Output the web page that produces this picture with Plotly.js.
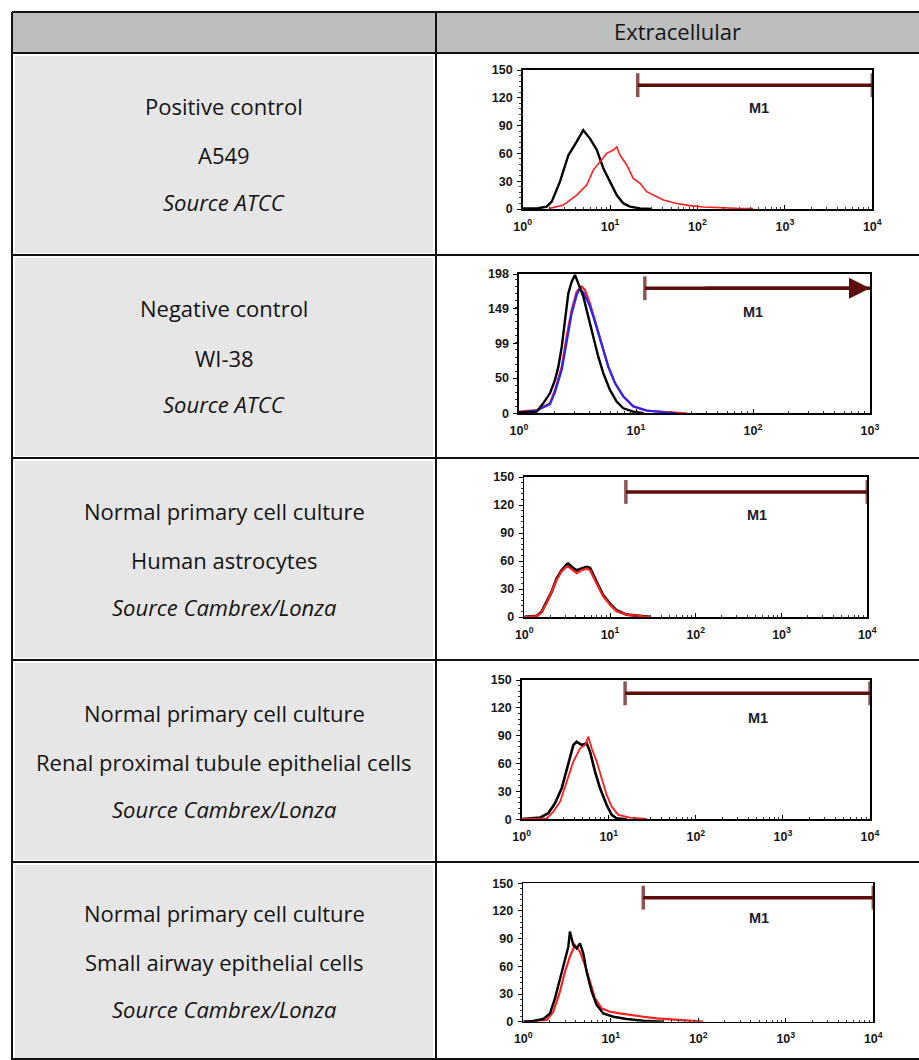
<!DOCTYPE html>
<html><head><meta charset="utf-8">
<script src="https://cdn.plot.ly/plotly-3.0.1.min.js"></script>
<style>html,body{margin:0;padding:0;background:#fff;} #chart{width:919px;height:1060px;}</style>
</head><body><div id="chart"></div><script>
// ---------- DATA ----------
const headerText = 'Extracellular';
const rowTitles = ['Positive control', 'Negative control', 'Normal primary cell culture', 'Normal primary cell culture', 'Normal primary cell culture'];
const rowSubtitles = ['A549', 'WI-38', 'Human astrocytes', 'Renal proximal tubule epithelial cells', 'Small airway epithelial cells'];
const rowSources = ['Source ATCC', 'Source ATCC', 'Source Cambrex/Lonza', 'Source Cambrex/Lonza', 'Source Cambrex/Lonza'];

// Panel 1 : A549
const p1BlackX = [1.0, 1.5, 1.88, 2.15, 2.67, 3.33, 4.15, 4.93, 5.89, 7.03, 8.36, 9.97, 11.9, 14.2, 16.9, 22, 30];
const p1BlackY = [0.5, 0.8, 2.5, 7.9, 29.5, 58, 72.7, 85, 76, 64, 44, 29.5, 15, 6, 2.5, 0.7, 0];
const p1RedX = [2.05, 2.92, 4.15, 5.4, 6.42, 7.66, 9.14, 10.9, 11.9, 13, 15.5, 18.4, 22, 26.2, 31.2, 40.6, 57.8, 82, 116, 181, 281, 435];
const p1RedY = [0.7, 4.3, 15, 25.9, 42, 51, 60, 63.7, 67, 58, 47.5, 33, 27.7, 18.7, 15, 9.7, 6, 3.6, 2.2, 1.3, 0.7, 0.5];
// Panel 2 : WI-38
const p2BlackX = [1.0, 1.42, 1.61, 1.84, 2.03, 2.17, 2.32, 2.47, 2.64, 2.82, 3.01, 3.21, 3.55, 3.91, 4.32, 4.76, 5.26, 5.99, 6.83, 7.79, 9.48, 11.6];
const p2BlackY = [1, 2.4, 14.2, 28.4, 47.4, 66.3, 94.7, 132.6, 170.5, 187.1, 196.6, 184.7, 165.8, 137.4, 109, 80.5, 56.8, 33.2, 16.6, 7.1, 2.4, 0];
const p2RedX = [1.0, 1.42, 1.84, 2.03, 2.32, 2.55, 2.82, 3.11, 3.43, 3.66, 4.04, 4.46, 5.09, 5.80, 6.62, 7.79, 9.48, 12.3, 17.1, 27.1];
const p2RedY = [2.4, 4.7, 14.2, 33.2, 66.3, 109, 146.8, 172.9, 180, 175.3, 156.3, 132.6, 99.5, 66.3, 42.6, 23.7, 9.5, 3.8, 1.9, 0];
const p2BlueX = [1.0, 1.42, 1.84, 2.03, 2.32, 2.55, 2.82, 3.11, 3.3, 3.55, 4.04, 4.46, 5.09, 5.80, 6.62, 7.79, 9.48, 12.3, 17.1, 22];
const p2BlueY = [1.5, 4, 13, 30, 62, 104, 142, 168, 177, 172, 152, 130, 98, 66, 43, 24, 10, 4, 1.5, 0];
// Panel 3 : Human astrocytes
const p3BlackX = [1.0, 1.39, 1.59, 1.82, 2.08, 2.38, 2.73, 3.12, 3.26, 3.56, 4.08, 4.66, 5.33, 5.83, 6.38, 7.29, 8.34, 9.98, 11.9, 15.6, 22.3, 29.2];
const p3BlackY = [0, 1.1, 5.4, 16, 26.8, 41, 50, 56.4, 57.1, 53.6, 50, 51.8, 53.6, 52.5, 44.6, 33.9, 23.2, 14.3, 7.1, 2.5, 1.1, 0];
const p3RedX = [1.0, 1.39, 1.59, 1.82, 2.08, 2.38, 2.73, 3.12, 3.26, 3.56, 4.08, 4.66, 5.33, 5.83, 6.38, 7.29, 8.34, 9.98, 11.9, 15.6, 22.3, 29.2];
const p3RedY = [0, 1, 5, 15, 27, 40, 49, 54, 54, 51, 47, 50, 52, 50, 43, 33, 22, 13, 6, 2.5, 1, 0];
// Panel 4 : Renal proximal tubule epithelial cells
const p4BlackX = [1.0, 1.62, 2.02, 2.41, 2.88, 3.43, 3.92, 4.28, 4.89, 5.57, 6.09, 6.95, 7.94, 9.46, 10.8, 12.3, 16.1];
const p4BlackY = [0.4, 1.8, 6.5, 17.2, 33.4, 58.5, 80, 83.6, 80, 81.8, 72.9, 51.3, 33.4, 15.4, 4.7, 1.1, 0];
const p4RedX = [1.0, 1.94, 2.31, 2.76, 3.29, 3.92, 4.68, 5.34, 5.83, 6.37, 7.27, 8.29, 9.46, 10.8, 12.9, 17.5, 27.3];
const p4RedY = [0.4, 1.1, 8.3, 19, 40.6, 62.1, 76.4, 80, 89, 76.4, 62.1, 44.1, 26.2, 13.6, 4.7, 1.8, 0.4];
// Panel 5 : Small airway epithelial cells
const p5BlackX = [1.0, 1.3, 1.69, 2.02, 2.3, 2.62, 2.99, 3.27, 3.41, 3.73, 4.07, 4.44, 4.85, 5.29, 6.04, 6.89, 8.21, 10.7, 15.2, 23.5, 39.8];
const p5BlackY = [0, 0.7, 2.9, 9, 25.3, 47, 68.7, 81.3, 97.6, 83.1, 79.5, 84.9, 74.1, 54.2, 32.5, 18.1, 9, 5.4, 2.9, 1.1, 0];
const p5RedX = [1.0, 1.85, 2.2, 2.62, 2.99, 3.41, 3.89, 4.44, 5.07, 5.78, 6.59, 7.86, 9.78, 12.7, 16.6, 23.5, 33.4, 47.4, 73.5, 114];
const p5RedY = [0, 1.8, 10.8, 32.5, 54.2, 70.5, 83.1, 75.9, 61.4, 43.4, 25.3, 14.5, 10.8, 9, 7.2, 5.4, 3.6, 2.5, 1.1, 0];

// M1 gates
const gateName = 'M1';
const gateStart = [20.7, 11.9, 15.3, 15.4, 23.5];
const gateEnd = [10000, 1000, 10000, 10000, 10000];
const gateLevel = [133.6, 177.7, 134, 135.7, 134.4];
const gateLabelX = [500, 100, 515, 517, 494];
const gateLabelY = [109, 144, 109, 109.4, 112];

// Axis ticks
const yTicks150 = [0, 30, 60, 90, 120, 150];
const yTicks198 = [0, 50, 99, 149, 198];
const xTicks4 = [1, 10, 100, 1000, 10000];
const xTickText4 = ['10<sup>0</sup>', '10<sup>1</sup>', '10<sup>2</sup>', '10<sup>3</sup>', '10<sup>4</sup>'];
const xTicks3 = [1, 10, 100, 1000];
const xTickText3 = ['10<sup>0</sup>', '10<sup>1</sup>', '10<sup>2</sup>', '10<sup>3</sup>'];

// ---------- LAYOUT ----------
const W = 919, H = 1060;
const px = x => x / W;
const py = y => 1 - y / H;
const rowLines = [53, 255, 458, 660, 862, 1060];
const colL = 12, colM = 436;
const boxes = [
  {l: 522.7, r: 872.3, t: 70, b: 209},
  {l: 519, r: 870, t: 274, b: 413.3},
  {l: 524.3, r: 867.3, t: 477, b: 617},
  {l: 521.7, r: 870, t: 680, b: 819.3},
  {l: 523.3, r: 873.3, t: 883.3, b: 1021.7}
];
const decades = [4, 3, 4, 4, 4];
const yMax = [150, 198, 150, 150, 150];

const RED = '#ff1f1f', BLUE = '#2525ff', BLACK = '#000000', GATE = '#5e0d0d';
const tickFont = {family: 'Liberation Sans, Arial, sans-serif', size: 12.5, color: '#161616', weight: 'bold'};
const textFont = {family: 'Open Sans, sans-serif', size: 22, color: '#141414'};

const series = [
  [[p1BlackX, p1BlackY, BLACK, 2.4], [p1RedX, p1RedY, RED, 1.6]],
  [[p2RedX, p2RedY, RED, 2.2], [p2BlueX, p2BlueY, BLUE, 2.2], [p2BlackX, p2BlackY, BLACK, 2.4]],
  [[p3BlackX, p3BlackY, BLACK, 2.8], [p3RedX, p3RedY, RED, 2.2]],
  [[p4BlackX, p4BlackY, BLACK, 2.6], [p4RedX, p4RedY, RED, 1.8]],
  [[p5RedX, p5RedY, RED, 2.2], [p5BlackX, p5BlackY, BLACK, 2.4]]
];

const traces = [];
const layout = {
  width: W, height: H, margin: {l: 0, r: 0, t: 0, b: 0},
  paper_bgcolor: '#ffffff', plot_bgcolor: 'rgba(0,0,0,0)',
  showlegend: false, shapes: [], annotations: []
};

boxes.forEach((b, i) => {
  const s = i === 0 ? '' : String(i + 1);
  const xa = 'x' + s, ya = 'y' + s;
  series[i].forEach(([xs, ys, c, w]) => {
    traces.push({type: 'scatter', mode: 'lines', x: xs, y: ys, xaxis: xa, yaxis: ya,
      line: {color: c, width: w, shape: 'linear'}, hoverinfo: 'skip'});
  });
  // gate
  traces.push({type: 'scatter', mode: 'lines+markers', x: [gateStart[i], gateEnd[i]], y: [gateLevel[i], gateLevel[i]],
    xaxis: xa, yaxis: ya, cliponaxis: false, hoverinfo: 'skip',
    line: {color: GATE, width: 3.5},
    marker: {symbol: 'line-ns', size: i === 1 ? [17, 0] : [17, 17], color: GATE, line: {color: GATE, width: 3.5}}});
  if (i === 1) {
    layout.annotations.push({xref: xa, yref: ya, axref: xa, ayref: ya,
      x: Math.log10(gateEnd[i]), y: gateLevel[i], ax: Math.log10(gateStart[i]) + 0.5, ay: gateLevel[i],
      text: '', showarrow: true, arrowhead: 2, arrowsize: 1.2, arrowwidth: 3.5, arrowcolor: GATE});
  }
  layout.annotations.push({xref: xa, yref: ya, x: Math.log10(gateLabelX[i]), y: gateLabelY[i], text: gateName,
    showarrow: false, xanchor: 'center', yanchor: 'middle',
    font: {family: 'Liberation Sans, Arial, sans-serif', size: 14.5, color: '#1c1c30', weight: 'bold'}});

  layout['xaxis' + s] = {
    type: 'log', domain: [px(b.l), px(b.r)], range: [0, decades[i]], anchor: ya,
    tickmode: 'array', tickvals: decades[i] === 4 ? xTicks4 : xTicks3, ticktext: decades[i] === 4 ? xTickText4 : xTickText3,
    ticks: 'inside', ticklen: 4, tickwidth: 1, tickcolor: '#000',
    minor: {ticks: 'inside', ticklen: 2, dtick: 'D1', tickcolor: '#333'},
    showline: true, mirror: true, linecolor: '#000', linewidth: 1.6,
    showgrid: false, zeroline: false, tickfont: tickFont, ticklabelstandoff: 5, fixedrange: true
  };
  layout['yaxis' + s] = {
    domain: [py(b.b), py(b.t)], range: [0, yMax[i]], anchor: xa,
    tickmode: 'array', tickvals: i === 1 ? yTicks198 : yTicks150,
    ticks: 'outside', ticklen: 4, tickwidth: 1, tickcolor: '#000',
    minor: {ticks: 'outside', ticklen: 2, dtick: i === 1 ? 10 : 6, tickcolor: '#333'},
    showline: true, mirror: true, linecolor: '#000', linewidth: 1.6,
    showgrid: false, zeroline: false, tickfont: tickFont, ticklabelstandoff: 2, fixedrange: true
  };
});

// table backgrounds
const rect = (x0, y0, x1, y1, fill) => ({type: 'rect', xref: 'paper', yref: 'paper', layer: 'below',
  x0: px(x0), x1: px(x1), y0: py(y1), y1: py(y0), fillcolor: fill, line: {width: 0}});
const line = (x0, y0, x1, y1) => ({type: 'line', xref: 'paper', yref: 'paper', layer: 'above',
  x0: px(x0), x1: px(x1), y0: py(y0), y1: py(y1), line: {color: '#111', width: 2}});

layout.shapes.push(rect(colL, 12, W, 53, '#bdbebe'));
for (let r = 0; r < 5; r++) {
  layout.shapes.push(rect(colL + 3, rowLines[r] + 3, colM - 3, rowLines[r + 1] - 2, '#e6e6e6'));
}
layout.shapes.push(line(colL, 12, W, 12));
rowLines.forEach(y => layout.shapes.push(line(colL, y - (y === 1060 ? 1 : 0), W, y - (y === 1060 ? 1 : 0))));
layout.shapes.push(line(colL, 12, colL, H));
layout.shapes.push(line(colM, 12, colM, H));

// texts
layout.annotations.push({xref: 'paper', yref: 'paper', x: px(677), y: py(31), text: headerText,
  showarrow: false, xanchor: 'center', yanchor: 'middle', font: textFont});
for (let r = 0; r < 5; r++) {
  const c = (rowLines[r] + rowLines[r + 1]) / 2;
  const xs = px((colL + colM) / 2);
  const base = {xref: 'paper', yref: 'paper', x: xs, showarrow: false, xanchor: 'center', yanchor: 'middle', font: textFont};
  layout.annotations.push(Object.assign({}, base, {y: py(c - 48), text: rowTitles[r]}));
  layout.annotations.push(Object.assign({}, base, {y: py(c + 1), text: rowSubtitles[r]}));
  layout.annotations.push(Object.assign({}, base, {y: py(c + 48), text: '<i>' + rowSources[r] + '</i>'}));
}

Plotly.newPlot('chart', traces, layout, {staticPlot: true, displayModeBar: false});
</script></body></html>
